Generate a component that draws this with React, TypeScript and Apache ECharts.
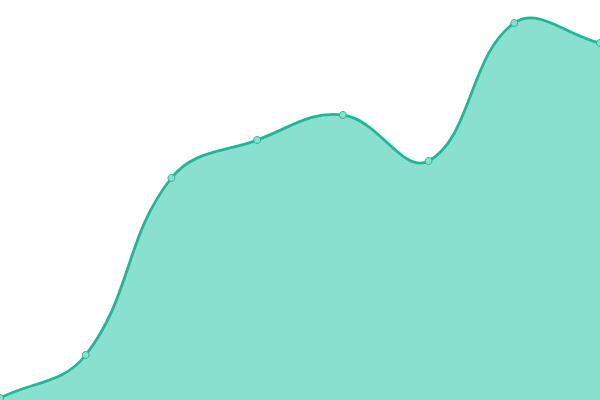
import React, { useEffect, useRef } from 'react';
import * as echarts from 'echarts';

const categories = ['1', '2', '3', '4', '5', '6', '7', '8'];
const values = [2, 45, 222, 260, 285, 239, 377, 357];

const LINE_COLOR = '#1fb897';
const AREA_COLOR = '#89e0cf';
const TENSION = 0.4;

// cardinal-style spline through the pixel points, control points capped to the grid
function buildPaths(pts: number[][], box: { x: number; y: number; width: number; height: number }, baseY: number) {
    const clampX = (v: number) => Math.min(Math.max(v, box.x), box.x + box.width);
    const clampY = (v: number) => Math.min(Math.max(v, box.y), box.y + box.height);
    const cps: { prev: number[]; next: number[] }[] = pts.map((p, i) => {
        const prev = pts[i - 1] || p;
        const next = pts[i + 1] || p;
        const d01 = Math.hypot(p[0] - prev[0], p[1] - prev[1]);
        const d12 = Math.hypot(next[0] - p[0], next[1] - p[1]);
        let s01 = d01 / (d01 + d12);
        let s12 = d12 / (d01 + d12);
        if (isNaN(s01)) s01 = 0;
        if (isNaN(s12)) s12 = 0;
        const fa = TENSION * s01;
        const fb = TENSION * s12;
        return {
            prev: [clampX(p[0] - fa * (next[0] - prev[0])), clampY(p[1] - fa * (next[1] - prev[1]))],
            next: [clampX(p[0] + fb * (next[0] - prev[0])), clampY(p[1] + fb * (next[1] - prev[1]))]
        };
    });
    let line = `M${pts[0][0]},${pts[0][1]}`;
    for (let i = 1; i < pts.length; i++) {
        const a = cps[i - 1].next;
        const b = cps[i].prev;
        line += ` C${a[0]},${a[1]} ${b[0]},${b[1]} ${pts[i][0]},${pts[i][1]}`;
    }
    const last = pts[pts.length - 1];
    const area = `${line} L${last[0]},${baseY} L${pts[0][0]},${baseY} Z`;
    return { line, area };
}

const App: React.FC = () => {
    const chartRef = useRef<HTMLDivElement>(null);

    useEffect(() => {
        if (!chartRef.current) return;
        const chart = echarts.init(chartRef.current, undefined, { renderer: 'svg' });

        chart.setOption({
            animation: false,
            grid: { left: 0, right: 0, top: 0, bottom: 0 },
            xAxis: {
                type: 'category',
                boundaryGap: false,
                data: categories,
                show: false
            },
            yAxis: {
                type: 'value',
                min: 0,
                max: 400,
                show: false,
                splitLine: { show: false }
            },
            series: [
                {
                    type: 'custom',
                    z: 1,
                    data: values.map((v, i) => [i, v]),
                    renderItem: (params: any, api: any) => {
                        if (params.dataIndex !== 0) return null;
                        const pts = values.map((v, i) => api.coord([i, v]));
                        const baseY = api.coord([0, 0])[1];
                        const { line, area } = buildPaths(pts, params.coordSys, baseY);
                        return {
                            type: 'group',
                            children: [
                                {
                                    type: 'path',
                                    shape: { pathData: area },
                                    style: { fill: AREA_COLOR, stroke: 'none' }
                                },
                                {
                                    type: 'path',
                                    shape: { pathData: line },
                                    style: { fill: 'none', stroke: LINE_COLOR, lineWidth: 2.8 }
                                }
                            ]
                        };
                    }
                },
                {
                    type: 'line',
                    z: 3,
                    data: values,
                    symbol: 'circle',
                    symbolSize: 7,
                    showSymbol: true,
                    lineStyle: { width: 0, opacity: 0 },
                    itemStyle: { color: AREA_COLOR, borderColor: LINE_COLOR, borderWidth: 1 }
                }
            ]
        });

        return () => {
            chart.dispose();
        };
    }, []);

    return (
        <div
            ref={chartRef}
            style={{ position: 'fixed', left: 0, top: 0, width: 600, height: 400 }}
        />
    );
};

export default App;
